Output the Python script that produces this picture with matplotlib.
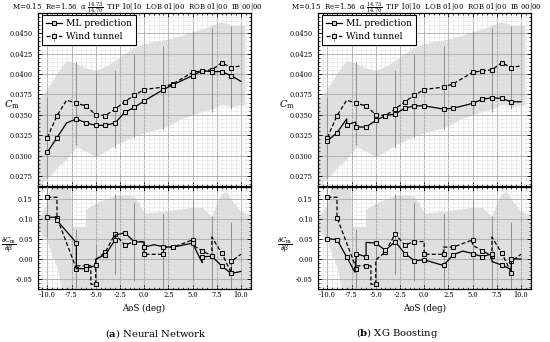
import numpy as np
import matplotlib
matplotlib.use("Agg")
import matplotlib.pyplot as plt
from matplotlib.ticker import MultipleLocator, FormatStrFormatter

# ---------------- data ----------------
aos = [-10, -9, -8, -7, -6, -5, -4, -3, -2, -1, 0, 2, 3, 5, 6, 7, 8, 9, 10]
cm_wt = [0.0322, 0.0349, 0.0368, 0.0364, 0.0361, 0.0350, 0.0349, 0.0357, 0.0366, 0.0374,
         0.0381, 0.0384, 0.0388, 0.0402, 0.0404, 0.0405, 0.0414, 0.0408, 0.0410]
cm_nn = [0.0304, 0.0322, 0.0340, 0.0345, 0.0340, 0.0337, 0.0337, 0.0340, 0.0353, 0.0359,
         0.0367, 0.0381, 0.0387, 0.0398, 0.0404, 0.0403, 0.0403, 0.0398, 0.0391]
cm_mark = [0, 1, 3, 4, 5, 6, 7, 8, 9, 10, 11, 12, 13, 14, 15, 16, 17]

aos_xg = [-10, -9, -8, -8, -7.1, -7, -6, -5, -4, -3, -2, -1, 0, 2, 3, 5, 6, 7, 8, 9, 10]
cm_xg = [0.0318, 0.0328, 0.0345, 0.0338, 0.0341, 0.0335, 0.0335, 0.0343, 0.0349, 0.0351,
         0.0358, 0.0361, 0.0361, 0.0357, 0.0358, 0.0364, 0.0369, 0.0371, 0.0370, 0.0366, 0.0366]
cm_xg_mark = [0, 1, 3, 5, 6, 7, 8, 9, 10, 11, 12, 13, 14, 15, 16, 17, 18, 19]

cm_err_x = [-10, -7, -5, -3, -1, 2, 5, 7, 9]
cm_err = [0.0050, 0.0051, 0.0051, 0.0048, 0.0051, 0.0051, 0.0051, 0.0051, 0.0051]

band_x = [-11, -10, -9, -8, -7, -6, -5, -4, -3, -2, -1, 0, 1, 2, 3, 4, 5, 6, 7, 8, 9, 10, 10.4]
band_hi = [0.0368, 0.0382, 0.0401, 0.0417, 0.0413, 0.0407, 0.0405, 0.0409, 0.0417, 0.0425,
           0.0433, 0.0437, 0.0440, 0.0442, 0.0444, 0.0448, 0.0452, 0.0455, 0.0460, 0.0464,
           0.0460, 0.0460, 0.0460]
band_lo = [0.0262, 0.0272, 0.0285, 0.0296, 0.0311, 0.0305, 0.0299, 0.0305, 0.0313, 0.0318,
           0.0324, 0.0328, 0.0331, 0.0334, 0.0340, 0.0346, 0.0350, 0.0354, 0.0357, 0.0363,
           0.0360, 0.0362, 0.0362]

# derivative dCm/dbeta
dwt_x = [-10, -9, -9, -7, -7, -6, -5.5, -5.5, -5, -5, -4, -3, -2, -1, 0, 0, 2, 2, 3, 5, 5,
         6, 7, 7, 8, 9, 9, 10]
dwt_y = [0.155, 0.155, 0.104, -0.024, -0.017, -0.017, -0.017, -0.063, -0.063, -0.002, 0.018,
         0.063, 0.035, 0.044, 0.044, 0.012, 0.012, 0.030, 0.030, 0.048, 0.035, 0.021, 0.008,
         0.055, 0.016, -0.034, -0.006, 0.012]
dwt_mark = [0, 2, 3, 5, 8, 10, 11, 12, 13, 15, 16, 18, 19, 21, 22, 24, 25, 26]
dwt_err_idx = [0, 3, 8, 11, 13, 16, 19, 22, 26]
dwt_err = [0.10, 0.10, 0.10, 0.10, 0.10, 0.10, 0.10, 0.10, 0.10]

dnn_x = [-10, -9, -9, -7, -7, -6, -5, -5, -4, -3, -3, -2, -1, 0, 0, 1, 2, 3, 5, 6, 6, 7,
         8, 9, 10]
dnn_y = [0.105, 0.105, 0.097, 0.041, -0.024, -0.024, -0.016, 0.000, 0.011, 0.048, 0.060,
         0.066, 0.043, 0.043, 0.030, 0.036, 0.031, 0.030, 0.040, -0.009, 0.006, 0.007,
         -0.017, -0.036, -0.031]
dnn_mark = [0, 2, 3, 5, 6, 8, 9, 11, 12, 14, 16, 17, 18, 20, 21, 22, 23]

dxg_x = [-10, -9, -8, -7.15, -7, -6, -6, -5, -4, -3, -2, -1, 0, 2, 3, 4, 5, 6, 7, 7, 8,
         9, 9, 10]
dxg_y = [0.051, 0.049, 0.005, -0.033, 0.013, 0.006, 0.042, 0.040, 0.022, 0.044, 0.014,
         -0.004, -0.002, -0.016, 0.011, 0.020, 0.014, 0.006, 0.013, -0.006, -0.015, -0.026,
         0.001, 0.000]
dxg_mark = [0, 1, 2, 4, 5, 7, 8, 9, 10, 11, 12, 13, 14, 16, 17, 18, 20, 22]

dband_x = [-11, -10, -9.5, -9, -8.5, -7.6, -7.5, -6.1, -6, -5, -4, -3, -2, -1, 0, 1, 2, 3,
           4, 5, 6, 7, 7.5, 8, 8.5, 9, 10, 11]
dband_hi = [0.100, 0.140, 0.190, 0.190, 0.190, 0.190, 0.082, 0.082, 0.125, 0.140, 0.150,
            0.160, 0.162, 0.158, 0.115, 0.117, 0.120, 0.124, 0.127, 0.130, 0.130, 0.107,
            0.140, 0.165, 0.170, 0.150, 0.120, 0.112]
dband_lo = [0.075, 0.045, 0.010, -0.020, -0.080, -0.080, -0.080, -0.080, -0.080, -0.080,
            -0.080, -0.080, -0.080, -0.080, -0.080, -0.080, -0.080, -0.080, -0.080, -0.080,
            -0.080, -0.080, -0.080, -0.080, -0.080, -0.080, -0.080, -0.080]

title_txt = (r'M=0.15  Re=1.56  $\alpha\ \frac{14.73}{14.70}$  TIP 10|10  LOB 01|00  '
             r'ROB 01|00  IB 00|00')
captions = [r'($\mathbf{a}$) Neural Network', r'($\mathbf{b}$) XG Boosting']

# ---------------- style ----------------
plt.rcParams.update({
    'font.family': ['DejaVu Serif'],
    'mathtext.fontset': 'dejavuserif',
    'xtick.direction': 'in', 'ytick.direction': 'in',
    'xtick.top': True, 'ytick.right': True,
    'xtick.major.size': 3.0, 'ytick.major.size': 3.0,
    'xtick.minor.size': 1.6, 'ytick.minor.size': 1.6,
    'xtick.major.width': 0.6, 'ytick.major.width': 0.6,
    'xtick.minor.width': 0.5, 'ytick.minor.width': 0.5,
    'xtick.labelsize': 4.8, 'ytick.labelsize': 4.8,
    'axes.linewidth': 0.9,
})

fig = plt.figure(figsize=(5.5, 3.42), dpi=100)

BAND = '#dedede'
ECOL = '#8c8c8c'
MFC = '#cfcfcf'
mk = dict(marker='s', ms=3.4, mfc=MFC, mec='k', mew=0.7)


def style_axes(ax, major_y, minor_y, fmt):
    ax.set_xlim(-11, 11)
    ax.xaxis.set_major_locator(MultipleLocator(2.5))
    ax.xaxis.set_minor_locator(MultipleLocator(0.5))
    ax.yaxis.set_major_locator(MultipleLocator(major_y))
    ax.yaxis.set_minor_locator(MultipleLocator(minor_y))
    ax.yaxis.set_major_formatter(FormatStrFormatter(fmt))
    ax.xaxis.set_major_formatter(FormatStrFormatter('%.1f'))
    ax.grid(True, which='major', color='#a8a8a8', lw=0.6)
    ax.grid(True, which='minor', color='#e2e2e2', lw=0.4)
    ax.tick_params(axis='x', pad=2)


panels = [
    (0.0684, aos, cm_nn, cm_mark, dnn_x, dnn_y, dnn_mark, -0.12, -0.137, 0.250),
    (0.5776, aos_xg, cm_xg, cm_xg_mark, dxg_x, dxg_y, dxg_mark, -0.145, -0.153, 0.757),
]

for i, (x0, mx, my, mmark, dx, dy, dmark, ylx, ylx2, tx) in enumerate(panels):
    w = 0.3872
    ax1 = fig.add_axes([x0, 0.4570, w, 0.5041])
    ax2 = fig.add_axes([x0, 0.1558, w, 0.2965])

    # ---- top: Cm ----
    ax1.fill_between(band_x, band_lo, band_hi, color=BAND, lw=0, zorder=1)
    err_full = np.zeros(len(aos))
    err_idx = [aos.index(v) for v in cm_err_x]
    err_full[err_idx] = cm_err
    ml, = ax1.plot(mx, my, '-', color='k', lw=0.9, markevery=mmark, zorder=4, **mk)
    wt = ax1.errorbar(aos, cm_wt, yerr=err_full, errorevery=err_idx, fmt='--', color='k',
                      lw=0.9, dashes=(3.2, 1.8), ecolor=ECOL, elinewidth=0.7, capsize=0,
                      markevery=cm_mark, zorder=3, **mk)
    ax1.set_ylim(0.0263, 0.04745)
    style_axes(ax1, 0.0025, 0.0005, '%.4f')
    ax1.tick_params(axis='x', labelbottom=False)
    ax1.set_ylabel(r'$C_\mathrm{m}$', rotation=0, fontsize=7, va='center')
    ax1.yaxis.set_label_coords(ylx, 0.47)
    leg = ax1.legend([ml, wt], ['ML prediction', 'Wind tunnel'], loc='upper left',
                     bbox_to_anchor=(0.022, 0.99), borderaxespad=0, fontsize=6.6,
                     fancybox=False, framealpha=1, edgecolor='k', handlelength=1.7,
                     handletextpad=0.45, labelspacing=0.5, borderpad=0.42, numpoints=1)
    leg.get_frame().set_linewidth(0.8)

    # ---- bottom: derivative ----
    ax2.fill_between(dband_x, dband_lo, dband_hi, color=BAND, lw=0, zorder=1)
    derr_full = np.zeros(len(dwt_x))
    derr_full[dwt_err_idx] = dwt_err
    ax2.errorbar(dwt_x, dwt_y, yerr=derr_full, errorevery=dwt_err_idx, fmt='--', color='k',
                 lw=0.9, dashes=(3.2, 1.8), ecolor=ECOL, elinewidth=0.7, capsize=0,
                 markevery=dwt_mark, zorder=3, **mk)
    ax2.plot(dx, dy, '-', color='k', lw=0.9, markevery=dmark, zorder=4, **mk)
    ax2.set_ylim(-0.0743, 0.180)
    style_axes(ax2, 0.05, 0.01, '%.2f')
    ax2.set_ylabel(r'$\frac{\partial C_\mathrm{m}}{\partial \beta}$', rotation=0, fontsize=7,
                   va='center')
    ax2.yaxis.set_label_coords(ylx2, 0.42)
    ax2.set_xlabel('AoS (deg)', fontsize=6.2)
    ax2.xaxis.set_label_coords(0.5, -0.15)

    fig.text(tx, 0.977, title_txt, fontsize=5.0, ha='center', va='center')
    fig.text([0.284, 0.722][i], 0.026, captions[i], fontsize=7.2, ha='center', va='center')

fig.savefig('out.png', dpi=100)
